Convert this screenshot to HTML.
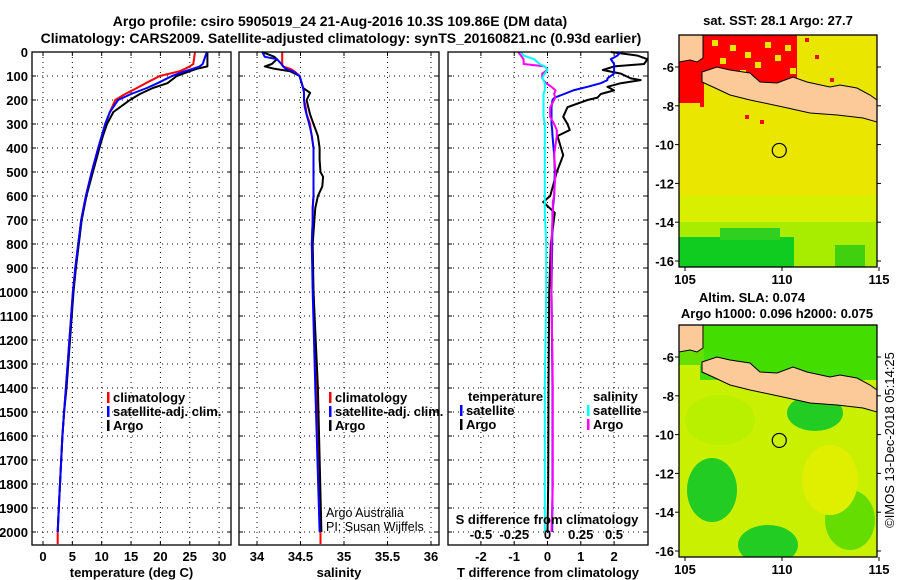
<!DOCTYPE html>
<html><head><meta charset="utf-8"><style>
html,body{margin:0;padding:0;background:#fff;}
svg{display:block;font-family:"Liberation Sans",sans-serif;}
.t{font-weight:bold;font-size:13px;fill:#000;}
.tt{font-weight:bold;font-size:14px;fill:#000;}
.grid{stroke:#000;stroke-width:1;stroke-dasharray:1,4;}
.frame{fill:none;stroke:#000;stroke-width:1.3;}
</style></head><body>
<svg id="svg" width="900" height="580" viewBox="0 0 900 580" xmlns="http://www.w3.org/2000/svg">
<text class="tt" x="340" y="26" text-anchor="middle">Argo profile: csiro 5905019_24 21-Aug-2016 10.3S 109.86E (DM data)</text>
<text class="tt" x="341" y="43" text-anchor="middle">Climatology: CARS2009. Satellite-adjusted climatology: synTS_20160821.nc (0.93d earlier)</text>
<g id="panels"></g>
<g id="maps"></g>
<text class="t" x="0" y="0" transform="translate(894,440) rotate(-90)" text-anchor="middle" style="font-weight:normal;font-size:13px">©IMOS 13-Dec-2018 05:14:25</text>
</svg>
<script>
// ---- data ----
const tempDepth = [0,50,60,70,80,100,130,150,175,200,250,300,350,400,500,600,700,800,900,1000,1200,1400,1500,1600,1700,1800,1900,2000,2050];
const tempClim  = [25.9,25.6,25.0,24.2,23.3,19.9,17.5,16.0,14.0,12.3,11.4,10.6,10.0,9.4,8.3,7.3,6.5,6.0,5.5,5.1,4.5,3.9,3.6,3.3,3.1,2.9,2.7,2.5,2.5];
const tempSat   = [27.9,27.2,26.7,25.5,24.2,22.0,19.5,17.7,15.0,12.8,11.4,10.6,10.0,9.4,8.3,7.3,6.5,6.0,5.5,5.1,4.5,3.9,3.6,3.3,3.1,2.9,2.7,2.5];
const tempArgo  = [28.0,28.0,28.0,26.2,25.0,22.8,21.2,18.7,16.5,14.8,12.0,10.9,10.2,9.6,8.5,7.4,6.6,6.1,5.6,5.2,4.6,4.0,3.6,3.3,3.1,2.9,2.7,2.5];
const salDepth = [0,20,30,50,60,70,80,100,150,170,200,230,260,300,330,350,400,450,500,520,560,600,650,700,800,1000,1400,2000,2050];
const salClim  = [34.29,34.29,34.29,34.29,34.30,34.38,34.43,34.49,34.53,34.54,34.54,34.56,34.57,34.61,34.62,34.63,34.65,34.65,34.65,34.65,34.65,34.65,34.64,34.64,34.63,34.65,34.69,34.73,34.73];
const salSat   = [34.06,34.09,34.23,34.28,34.30,34.33,34.41,34.49,34.53,34.54,34.54,34.55,34.57,34.60,34.62,34.63,34.65,34.65,34.65,34.65,34.65,34.65,34.64,34.64,34.63,34.64,34.67,34.72];
const salArgo  = [34.06,34.20,34.23,34.17,34.09,34.20,34.38,34.49,34.53,34.61,34.57,34.59,34.61,34.65,34.68,34.70,34.72,34.72,34.73,34.76,34.75,34.70,34.67,34.66,34.64,34.65,34.70,34.74];
const dDepth = [0,15,30,50,60,75,90,110,117,130,145,160,175,190,200,230,270,300,325,350,430,500,600,625,670,800,1000,1400,1800,2000];
const dTSat  = [2.2,2.1,1.9,2.0,2.0,2.0,2.0,1.8,1.8,1.6,1.2,0.77,0.5,0.22,0.15,0.12,0.12,0.12,0.14,0.15,0.2,0.22,0.2,0.18,0.15,0.14,0.12,0.15,0.15,0.14];
const dTArgo = [1.9,2.7,3.0,2.9,2.0,1.66,2.2,2.5,2.8,2.2,1.8,2.0,1.6,1.5,1.2,0.6,0.47,0.6,0.67,0.3,0.47,0.28,0.08,-0.13,0.22,0.1,0.05,0.03,0.02,0.0];
const dSSat  = [-0.2,-0.18,-0.1,-0.06,-0.02,0.0,-0.02,-0.04,-0.03,-0.02,-0.02,-0.02,-0.03,-0.03,-0.03,-0.03,-0.03,-0.02,-0.02,-0.02,-0.02,-0.02,-0.02,-0.02,-0.02,-0.01,-0.01,-0.02,-0.02,-0.02];
const dSArgo = [-0.22,-0.2,-0.18,-0.18,-0.02,0.0,-0.04,-0.04,-0.03,-0.01,0.03,0.06,0.05,0.06,0.05,0.02,0.02,0.05,0.07,0.07,0.05,0.06,0.05,0.04,0.04,0.03,0.03,0.04,0.04,0.03];
const depthTicks = [0,100,200,300,400,500,600,700,800,900,1000,1100,1200,1300,1400,1500,1600,1700,1800,1900,2000];
const tempTicks = [0,5,10,15,20,25,30];
const salTicks = [34,34.5,35,35.5,36];
const salTickLabels = ["34","34.5","35","35.5","36"];
const dTTicks = [-2,-1,0,1,2];
const dSTicks = [-0.5,-0.25,0,0.25,0.5];
const dSTickLabels = ["-0.5","-0.25","0","0.25","0.5"];
const lonTicks = [105,110,115];
const latTicks = [-6,-8,-10,-12,-14,-16];

const NS="http://www.w3.org/2000/svg";
function mk(tag, attrs, parent, txt){const e=document.createElementNS(NS,tag);for(const k in attrs)e.setAttribute(k,attrs[k]);if(txt!==undefined)e.textContent=txt;parent.appendChild(e);return e;}
const yD = d => 52 + d*0.24;
const TOP=52, BOT=545;
const panels = document.getElementById('panels');

function line(parent, depths, vals, sx, color, name, w){
  let pts=[];
  for(let i=0;i<vals.length;i++) pts.push(sx(vals[i]).toFixed(1)+','+yD(depths[i]).toFixed(1));
  const p=mk('polyline',{points:pts.join(' '),fill:'none',stroke:color,'stroke-width':w||2,'stroke-linejoin':'round'},parent);
  
  
}
function panel(x0,x1,sx,ticks,labels,xlabel,name,yLabels){
  const g=mk('g',{},panels);
  
  
  depthTicks.forEach(d=>{ if(d>0){ mk('line',{x1:x0,x2:x1,y1:yD(d),y2:yD(d),class:'grid'},g); }
    mk('line',{x1:x0,x2:x0+4,y1:yD(d),y2:yD(d),stroke:'#000'},g);
    mk('line',{x1:x1-4,x2:x1,y1:yD(d),y2:yD(d),stroke:'#000'},g);
    if(yLabels){const t=mk('text',{x:x0-4,y:yD(d)+5,class:'t','text-anchor':'end'},g,String(d));
      
      }
  });
  ticks.forEach((v,i)=>{const x=sx(v);
    mk('line',{x1:x,x2:x,y1:TOP,y2:BOT,class:'grid'},g);
    mk('line',{x1:x,x2:x,y1:BOT-4,y2:BOT,stroke:'#000'},g);
    mk('line',{x1:x,x2:x,y1:TOP,y2:TOP+4,stroke:'#000'},g);
    const t=mk('text',{x:x,y:BOT+16,class:'t','text-anchor':'middle'},g,labels[i]);
    
    
  });
  const xl=mk('text',{x:(x0+x1)/2,y:BOT+32,class:'t','text-anchor':'middle'},g,xlabel);
  
  
  return g;
}
function frame(g,x0,x1){mk('rect',{x:x0,y:TOP,width:x1-x0,height:BOT-TOP,class:'frame'},g);}
function legend(g,x,y,items){
  items.forEach((it,i)=>{const yy=y+i*14;
    mk('rect',{x:x,y:yy-10,width:2.5,height:11,fill:it[1]},g);
    const t=mk('text',{x:x+6,y:yy,class:'t'},g,it[0]);
    
    
  });
}
// Panel 1 temperature
const sT=v=>43+v*5.87;
let g1=panel(32,231,sT,tempTicks,tempTicks.map(String),'temperature (deg C)','temperature-panel',true);
line(g1,tempDepth,tempClim,sT,'#ff0000','temp-climatology-line');
line(g1,tempDepth,tempArgo,sT,'#000','temp-argo-line');
line(g1,tempDepth,tempSat,sT,'#0000ff','temp-satellite-line');
legend(g1,107,402,[['climatology','#f00'],['satellite-adj. clim.','#00f'],['Argo','#000']]);
frame(g1,32,231);
// Panel 2 salinity
const sS=v=>257+(v-34)*87;
let g2=panel(239,439,sS,salTicks,salTickLabels,'salinity','salinity-panel',false);
line(g2,salDepth,salClim,sS,'#ff0000','sal-climatology-line');
line(g2,salDepth,salArgo,sS,'#000','sal-argo-line');
line(g2,salDepth,salSat,sS,'#0000ff','sal-satellite-line');
legend(g2,329,402,[['climatology','#f00'],['satellite-adj. clim.','#00f'],['Argo','#000']]);
let a1=mk('text',{x:326,y:517,'font-size':'12.5',fill:'#000'},g2,'Argo Australia');

let a2=mk('text',{x:326,y:531,'font-size':'12.5',fill:'#000'},g2,'PI: Susan Wijffels');

frame(g2,239,439);
// Panel 3 differences
const sdT=v=>547.5+v*33.3, sdS=v=>547.5+v*133;
let g3=panel(448,648,sdT,dTTicks,dTTicks.map(String),'T difference from climatology','difference-panel',false);
line(g3,dDepth,dTArgo,sdT,'#000','tdiff-argo-line');
line(g3,dDepth,dTSat,sdT,'#0000ff','tdiff-satellite-line');
line(g3,dDepth,dSArgo,sdS,'#ff00ff','sdiff-argo-line');
line(g3,dDepth,dSSat,sdS,'#00ffff','sdiff-satellite-line');
let lt=mk('text',{x:468,y:401,class:'t'},g3,'temperature');
legend(g3,460,415,[['satellite','#00f'],['Argo','#000']]);
let ls=mk('text',{x:593,y:401,class:'t'},g3,'salinity');
legend(g3,587,415,[['satellite','#0ff'],['Argo','#f0f']]);
let st=mk('text',{x:547,y:524,class:'t','text-anchor':'middle'},g3,'S difference from climatology');

dSTicks.forEach((v,i)=>{const t=mk('text',{x:sdS(v),y:539,class:'t','text-anchor':'middle'},g3,dSTickLabels[i]);
  });
frame(g3,448,648);

// ---- maps ----
const maps=document.getElementById('maps');
function map(y0, name, bgFill, patches, title){
  const g=mk('g',{},maps);
  
  
  const X0=679,X1=877,Y0=y0,Y1=y0+232;
  const lx=lon=>685+(lon-105)*19.4, ly=lat=>y0+32+(-6-lat)*19.4;
  const cp=mk('clipPath',{id:'c'+y0},g); mk('rect',{x:X0,y:Y0,width:X1-X0,height:Y1-Y0},cp);
  const inner=mk('g',{'clip-path':'url(#c'+y0+')'},g);
  mk('rect',{x:X0,y:Y0,width:X1-X0,height:Y1-Y0,fill:bgFill},inner);
  patches(inner,y0);
  const off=y0-35;
  const java=[[702,72],[717,67],[730,70],[750,73],[760,82],[777,83],[793,77],[807,82],[830,87],[840,85],[857,88],[870,95],[877,100],[877,122],[863,118],[837,115],[810,113],[783,107],[750,100],[730,95],[713,87],[702,82]];
  const jp=mk('polygon',{points:java.map(p=>p[0]+','+(p[1]+off)).join(' '),fill:'#fcc999',stroke:'#000','stroke-width':1},inner);
  
  mk('polygon',{points:[[679,35],[703,35],[703,58],[697,62],[690,60],[679,62]].map(p=>p[0]+','+(p[1]+off)).join(' '),fill:'#fcc999',stroke:'#000','stroke-width':1},inner);
  const c=mk('circle',{cx:lx(109.86),cy:ly(-10.3),r:7,fill:'none',stroke:'#000','stroke-width':1.2},g);
  
  mk('rect',{x:X0,y:Y0,width:X1-X0,height:Y1-Y0,class:'frame'},g);
  lonTicks.forEach(v=>{mk('line',{x1:lx(v),x2:lx(v),y1:Y1,y2:Y1+4,stroke:'#000'},g);
    const t=mk('text',{x:lx(v),y:Y1+17,class:'t','text-anchor':'middle','font-size':'14'},g,String(v));
    });
  latTicks.forEach(v=>{mk('line',{x1:X0-4,x2:X0,y1:ly(v),y2:ly(v),stroke:'#000'},g);
    mk('line',{x1:X1,x2:X1+4,y1:ly(v),y2:ly(v),stroke:'#000'},g);
    const t=mk('text',{x:X0-5,y:ly(v)+5,class:'t','text-anchor':'end'},g,String(v));
    });
  title.forEach(tl=>{const t=mk('text',{x:tl[0],y:tl[1],class:'t','text-anchor':'middle'},g,tl[2]);
    });
}
map(35,'sst-map','#ebe600',(g,y0)=>{
  mk('rect',{x:700,y:35,width:97,height:48,fill:'#ff0000'},g);
  mk('rect',{x:679,y:60,width:25,height:43,fill:'#ff0000'},g);
  [[712,40],[730,45],[745,52],[765,42],[755,62],[775,55],[785,45],[720,58],[740,70],[790,68]].forEach(p=>mk('rect',{x:p[0],y:p[1],width:6,height:6,fill:'#ebe600'},g));
  [[805,38],[815,55],[830,78],[745,115],[760,120],[700,103]].forEach(p=>mk('rect',{x:p[0],y:p[1],width:4,height:4,fill:'#ff0000'},g));
  mk('rect',{x:679,y:195,width:198,height:40,fill:'#d8f000'},g);
  mk('rect',{x:679,y:222,width:198,height:45,fill:'#a8ec00'},g);
  mk('rect',{x:679,y:237,width:115,height:30,fill:'#10cc20'},g);
  mk('rect',{x:720,y:228,width:60,height:12,fill:'#30d020'},g);
  mk('rect',{x:835,y:245,width:30,height:22,fill:'#40d010'},g);
},[[778,25,'sat. SST: 28.1 Argo: 27.7']]);
map(325,'sla-map','#c8f000',(g,y0)=>{
  mk('rect',{x:700,y:325,width:177,height:55,fill:'#44dd00'},g);
  mk('rect',{x:679,y:325,width:25,height:40,fill:'#66e000'},g);
  mk('ellipse',{cx:815,cy:413,rx:28,ry:18,fill:'#22cc22'},g);
  mk('ellipse',{cx:712,cy:490,rx:25,ry:32,fill:'#22cc22'},g);
  mk('ellipse',{cx:768,cy:545,rx:30,ry:20,fill:'#22cc22'},g);
  mk('ellipse',{cx:850,cy:520,rx:25,ry:30,fill:'#66dd00'},g);
  mk('ellipse',{cx:830,cy:480,rx:28,ry:35,fill:'#e0ee00'},g);
  mk('ellipse',{cx:720,cy:420,rx:35,ry:25,fill:'#b8f000'},g);
},[[752,302,'Altim. SLA: 0.074'],[777,318,'Argo h1000: 0.096 h2000: 0.075']]);
</script>
</body></html>
